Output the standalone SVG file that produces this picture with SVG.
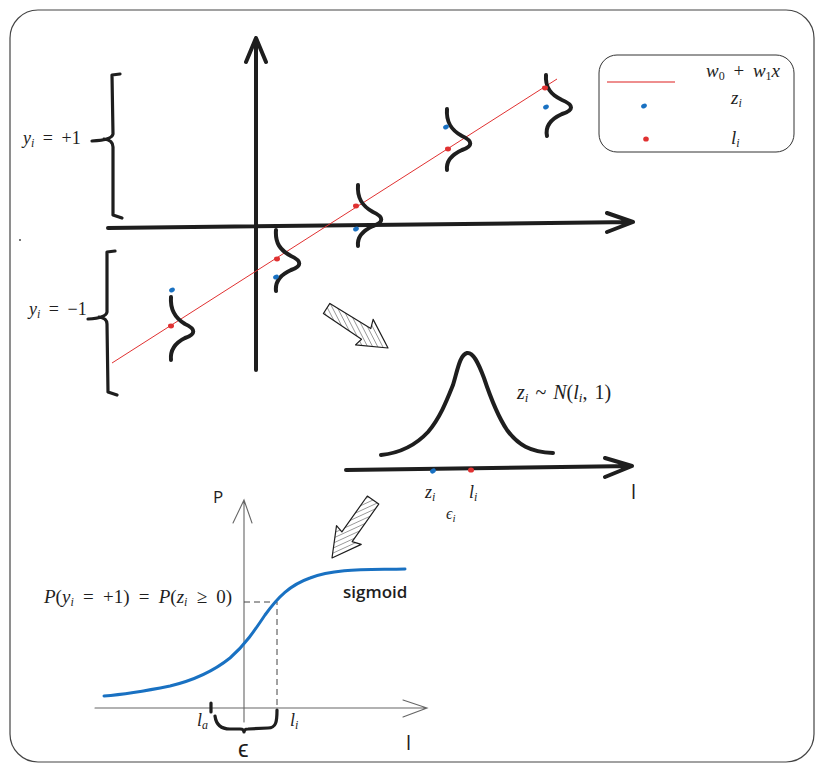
<svg xmlns="http://www.w3.org/2000/svg" width="824" height="771" viewBox="0 0 824 771">
<style>
.frame{fill:#fff;stroke:#444;stroke-width:1.2}
.thick{fill:none;stroke:#1e1e1e;stroke-width:4;stroke-linecap:round;stroke-linejoin:round}
.brace{fill:none;stroke:#1e1e1e;stroke-width:3.2;stroke-linecap:round;stroke-linejoin:round}
.thin{fill:none;stroke:#666;stroke-width:1.1;stroke-linecap:round}
.dash{fill:none;stroke:#444;stroke-width:1;stroke-dasharray:6 4}
.red{fill:#e03131}
.blue{fill:#1971c2}
.math{font-family:"Liberation Serif","DejaVu Serif",serif;fill:#1e1e1e}
.it{font-style:italic}
.hand{font-family:"Open Sans","Liberation Sans",sans-serif;fill:#1e1e1e}
.hatch{fill:url(#hatch);stroke:#1e1e1e;stroke-width:1.2;stroke-linejoin:round}
</style>
<defs>
<pattern id="hatch" patternUnits="userSpaceOnUse" width="4.5" height="4.5" patternTransform="rotate(-60)">
<rect width="4.5" height="4.5" fill="#fff"/>
<line x1="0" y1="0" x2="0" y2="4.5" stroke="#444" stroke-width="1"/>
</pattern>
</defs>
<rect class="frame" x="10" y="10" width="804" height="752" rx="28"/>
<circle cx="20" cy="240" r="0.9" fill="#333"/>

<g id="connectors">
<!-- top axes -->
<path class="thick" d="M256 370 L256 38 M246 62 L256 38 L266 62"/>
<path class="thick" d="M108 228 L633 222 M607 213 L633 222 L607 232"/>
<!-- regression line -->
<line x1="112" y1="363" x2="557" y2="79" stroke="#e03131" stroke-width="1"/>
<!-- hatched arrows -->
<polygon class="hatch" transform="translate(388,348) rotate(32.8)" points="0,0 -28,-16 -25,-7 -73,-6 -73,6 -27,7 -29,15"/>
<polygon class="hatch" transform="translate(332,558) rotate(125.3)" points="0,0 -28,-16 -25,-7 -71,-7 -71,7 -27,7 -29,15"/>
</g>

<g id="bracket-plus">
<path class="brace" d="M120 74 L112 75 L113 134 Q112 140 92 141 M104 139 Q113 140 113 147 L113 215 L122 218"/>
<text class="math" x="23" y="144" font-size="18" word-spacing="4"><tspan class="it">y</tspan><tspan class="it" font-size="12" dy="3">i</tspan><tspan dy="-3"> = +1</tspan></text>
</g>
<g id="bracket-minus">
<path class="brace" d="M115 251 L107 252 L107 312 Q106 318 88 319 M99 317 Q107 318 107 324 L108 392 L117 395"/>
<text class="math" x="29" y="315" font-size="18" word-spacing="4"><tspan class="it">y</tspan><tspan class="it" font-size="12" dy="3">i</tspan><tspan dy="-3"> = −1</tspan></text>
</g>

<g id="gauss-1">
<path class="thick" d="M171 297 C170 310,175 318,185 324 C196 329,196 334,185 338 C175 343,170 350,171 360"/>
<ellipse class="blue" cx="172" cy="290" rx="3" ry="2.2" transform="rotate(-30 172 290)"/>
<ellipse class="red" cx="171" cy="326" rx="3" ry="2.4"/>
</g>
<g id="gauss-2">
<path class="thick" d="M276 230 C275 243,280 250,291 256 C302 261,302 266,291 270 C280 275,275 282,276 291"/>
<ellipse class="red" cx="277" cy="259" rx="3" ry="2.4"/>
<ellipse class="blue" cx="276" cy="277" rx="3" ry="2.2" transform="rotate(-30 276 277)"/>
</g>
<g id="gauss-3">
<path class="thick" d="M358 185 C357 198,362 206,373 212 C384 217,384 222,373 226 C362 231,357 237,358 246"/>
<ellipse class="red" cx="356" cy="206" rx="3" ry="2.4"/>
<ellipse class="blue" cx="356" cy="229" rx="3" ry="2.2" transform="rotate(-30 356 229)"/>
</g>
<g id="gauss-4">
<path class="thick" d="M447 109 C446 122,451 130,462 136 C473 141,473 146,462 150 C451 155,446 161,447 170"/>
<ellipse class="red" cx="448" cy="149" rx="3" ry="2.4"/>
<ellipse class="blue" cx="446" cy="127" rx="3" ry="2.2" transform="rotate(-30 446 127)"/>
</g>
<g id="gauss-5">
<path class="thick" d="M546 75 C545 88,551 95,562 100 C574 105,574 110,562 114 C551 119,545 126,547 136"/>
<ellipse class="red" cx="545" cy="88" rx="3" ry="2.4"/>
<ellipse class="blue" cx="546" cy="107" rx="3" ry="2.2" transform="rotate(-30 546 107)"/>
</g>

<g id="legend">
<rect x="599" y="55" width="195" height="97" rx="18" fill="none" stroke="#333" stroke-width="1"/>
<line x1="607" y1="82" x2="675" y2="82" stroke="#e03131" stroke-opacity="0.55" stroke-width="2"/>
<text class="math" x="706" y="77" font-size="19" word-spacing="4"><tspan class="it">w</tspan><tspan font-size="12" dy="3">0</tspan><tspan dy="-3"> + </tspan><tspan class="it">w</tspan><tspan font-size="12" dy="3">1</tspan><tspan class="it" dy="-3">x</tspan></text>
<ellipse class="blue" cx="644" cy="106" rx="3" ry="2.2" transform="rotate(-30 644 106)"/>
<text class="math" x="731" y="104" font-size="19"><tspan class="it">z</tspan><tspan class="it" font-size="12" dy="3">i</tspan></text>
<ellipse class="red" cx="646" cy="139" rx="2.8" ry="2.6"/>
<text class="math" x="731" y="144" font-size="19"><tspan class="it">l</tspan><tspan class="it" font-size="12" dy="3">i</tspan></text>
</g>

<g id="bell">
<path class="thick" d="M346 470 L632 466 M605 458 L632 466 L605 477"/>
<path class="thick" d="M381 455 C400 453,415 446,428 432 C440 418,447 400,453 385 C458 368,460 355,467 353 C473 352,478 362,484 378 C490 396,497 415,507 430 C518 445,530 452,553 453"/>
<ellipse class="blue" cx="433" cy="471" rx="3" ry="2.3" transform="rotate(-30 433 471)"/>
<ellipse class="red" cx="471" cy="470" rx="3" ry="2.6"/>
<text class="math" x="517" y="399" font-size="20" word-spacing="2"><tspan class="it">z</tspan><tspan class="it" font-size="13" dy="3">i</tspan><tspan dy="-3"> ~ </tspan><tspan class="it">N</tspan><tspan>(</tspan><tspan class="it">l</tspan><tspan class="it" font-size="13" dy="3">i</tspan><tspan dy="-3">, 1)</tspan></text>
<text class="math" x="425" y="498" font-size="18"><tspan class="it">z</tspan><tspan class="it" font-size="12" dy="3">i</tspan></text>
<text class="math" x="469" y="498" font-size="18"><tspan class="it">l</tspan><tspan class="it" font-size="12" dy="3">i</tspan></text>
<text class="math" x="446" y="519" font-size="16"><tspan class="it">ϵ</tspan><tspan class="it" font-size="11" dy="3">i</tspan></text>
<text class="hand" x="631" y="499" font-size="20">l</text>
</g>

<g id="sigmoid-plot">
<path class="thin" d="M244 722 L244 500 M233 523 L244 500 L252 523"/>
<path class="thin" d="M95 708 L427 708 M403 700 L427 708 L403 717"/>
<path class="dash" d="M244 602 L277 602 L277 708"/>
<path d="M104 696 C130 694,150 690,170 686 C195 680,215 670,230 658 C245 645,255 630,265 615 C278 597,290 585,310 578 C335 568,370 570,405 569" fill="none" stroke="#1971c2" stroke-width="3" stroke-linecap="round"/>
<path class="brace" d="M211 703 L211 712 M215 716 C216 724,220 729,230 729 L240 729 Q244 729 244 732 Q244 729 248 729 L268 728 C276 728,277 722,277 710"/>
<text class="hand" x="213" y="503" font-size="17">P</text>
<text class="hand" x="343" y="598" font-size="17" font-weight="600">sigmoid</text>
<text class="math" x="44" y="603" font-size="19" word-spacing="4.5"><tspan class="it">P</tspan><tspan>(</tspan><tspan class="it">y</tspan><tspan class="it" font-size="12" dy="3">i</tspan><tspan dy="-3"> = +1) = </tspan><tspan class="it">P</tspan><tspan>(</tspan><tspan class="it">z</tspan><tspan class="it" font-size="12" dy="3">i</tspan><tspan dy="-3"> ≥ 0)</tspan></text>
<text class="math" x="197" y="726" font-size="18"><tspan class="it">l</tspan><tspan class="it" font-size="12" dy="3">a</tspan></text>
<text class="math" x="290" y="726" font-size="18"><tspan class="it">l</tspan><tspan class="it" font-size="12" dy="3">i</tspan></text>
<text class="hand" x="238" y="757" font-size="24">ϵ</text>
<text class="hand" x="406" y="750" font-size="20">l</text>
</g>
</svg>
